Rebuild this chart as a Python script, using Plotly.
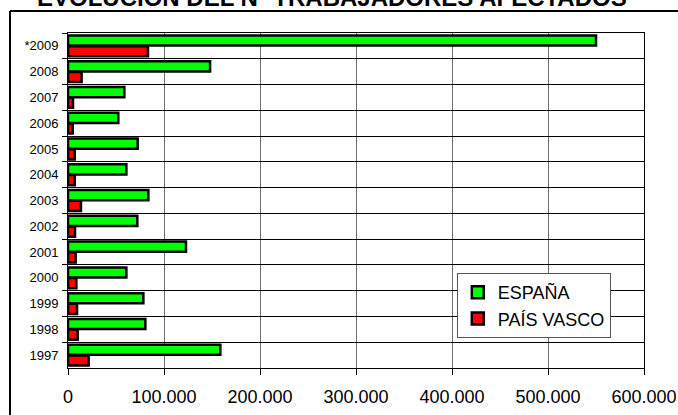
import plotly.graph_objects as go

categories = ["*2009", "2008", "2007", "2006", "2005", "2004", "2003",
              "2002", "2001", "2000", "1999", "1998", "1997"]
espana = [550000, 148000, 58700, 52400, 72600, 60800, 83700,
          72200, 122900, 60800, 78500, 80600, 158700]
pais_vasco = [83300, 14200, 5200, 4900, 7000, 7000, 13500,
              7300, 8000, 8700, 9400, 10100, 21500]
x_ticks = [0, 100000, 200000, 300000, 400000, 500000, 600000]
title_text = "EVOLUCIÓN DEL Nº TRABAJADORES AFECTADOS"

FONT = "Arial, Liberation Sans, sans-serif"

fig = go.Figure()
fig.add_trace(go.Bar(
    y=categories, x=espana, orientation="h", name="ESPAÑA",
    marker=dict(color="#00FF00", line=dict(color="black", width=2.5)),
    legendgroup="a",
))
fig.add_trace(go.Bar(
    y=categories, x=pais_vasco, orientation="h", name="PAÍS VASCO",
    marker=dict(color="#FF0000", line=dict(color="black", width=2.5)),
    legendgroup="b",
))

frame_line = dict(color="black", width=2)
fig.update_layout(
    width=678, height=415,
    margin=dict(l=68, r=34, t=33, b=47, autoexpand=False),
    paper_bgcolor="white", plot_bgcolor="white",
    barmode="group", bargap=0.17, bargroupgap=0.05,
    separators=",.",
    font=dict(family=FONT, color="black"),
    showlegend=True,
    legend=dict(
        x=0.675, y=0.2836, xanchor="left", yanchor="top",
        bgcolor="white", bordercolor="#555555", borderwidth=1,
        font=dict(size=18, family=FONT, color="black"),
        tracegroupgap=6, traceorder="normal",
    ),
    xaxis=dict(
        range=[0, 600000], tickvals=x_ticks, tickformat=",",
        showgrid=True, gridcolor="#707070", gridwidth=1,
        showline=True, linecolor="black", linewidth=1, mirror=True,
        ticks="outside", ticklen=6, tickcolor="black",
        tickfont=dict(size=18, family=FONT, color="black"),
        ticklabelstandoff=6,
        zeroline=False, fixedrange=True, automargin=False,
    ),
    yaxis=dict(
        type="category", autorange="reversed",
        showgrid=True, gridcolor="black", gridwidth=1,
        tickson="boundaries",
        showline=True, linecolor="black", linewidth=1, mirror=True,
        ticks="outside", ticklen=5, tickcolor="black",
        tickfont=dict(size=13, family=FONT, color="black"),
        ticklabelstandoff=6,
        fixedrange=True, automargin=False,
    ),
    shapes=[
        dict(type="line", xref="paper", yref="paper",
             x0=-0.1007, x1=-0.1007, y0=-0.2, y1=1.0657, line=frame_line),
        dict(type="line", xref="paper", yref="paper",
             x0=-0.1007, x1=1.2, y0=1.0657, y1=1.0657, line=frame_line),
    ],
    annotations=[dict(
        text="<b>" + title_text + "</b>", xref="paper", yref="paper",
        x=0.4575, y=1.0624, xanchor="center", yanchor="bottom",
        showarrow=False, borderwidth=0,
        font=dict(size=24, family=FONT, color="black"),
    )],
)

fig.write_html("out.html", config={"displayModeBar": False},
               post_script="document.body.style.margin='0';document.body.style.overflow='hidden';")
